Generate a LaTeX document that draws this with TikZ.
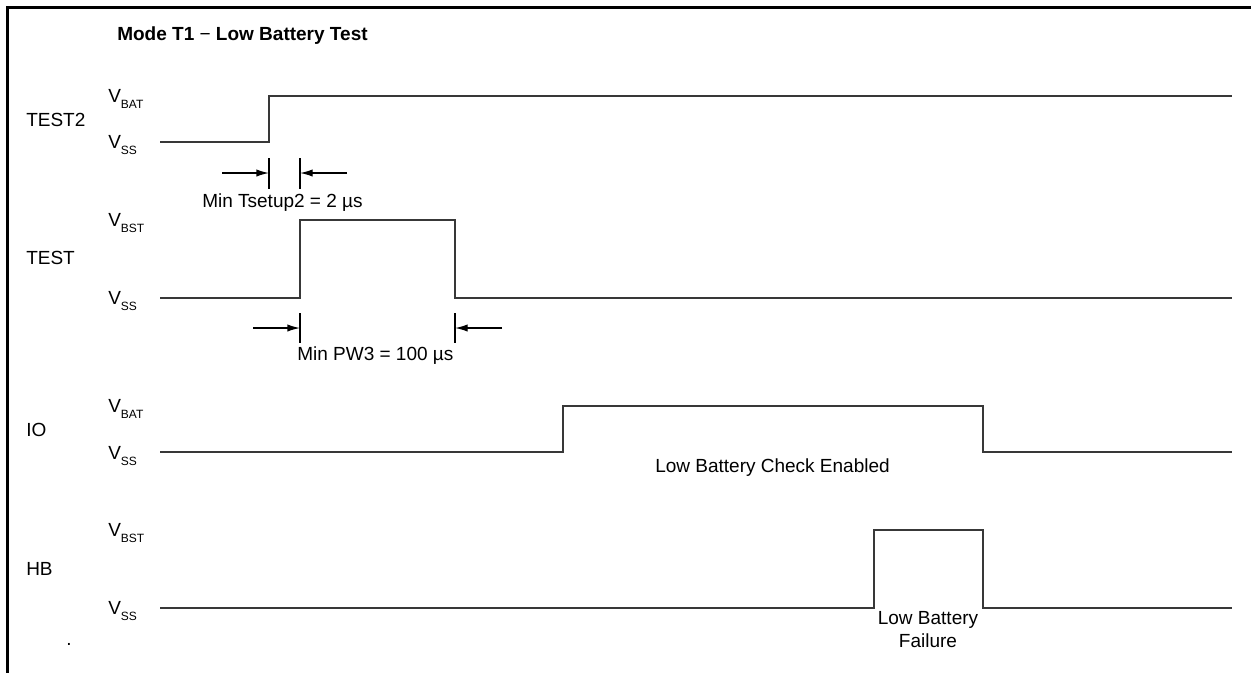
\documentclass[tikz,border=0pt]{standalone}
\usepackage{fontspec}
\setmainfont{Liberation Sans}
\usepackage{tikz}
\usetikzlibrary{arrows.meta,calc}
\definecolor{wavegray}{gray}{0.22}
\tikzstyle{frame} = [draw, line width=2.2pt, line cap=rect]
\tikzstyle{wave} = [draw, color=wavegray, line width=1.4pt]
\tikzstyle{edgetick} = [draw, line width=1pt]
\tikzstyle{dim} = [draw, line width=1pt, -{Latex[length=9.5pt,width=5.5pt]}]
\tikzstyle{txt} = [inner sep=0pt, anchor=base west, font=\fontsize{14.25}{17.25}\selectfont]
\tikzstyle{ttl} = [txt, font=\bfseries\fontsize{14.25}{17.25}\selectfont]
\newcommand{\lvl}[1]{V\raisebox{-4.5pt}{\fontsize{9}{10}\selectfont #1}}

\begin{document}
\begin{tikzpicture}[x=0.75pt, y=-0.75pt]
      \useasboundingbox (0,0) rectangle (1251,672);
      \pgfmathsetmacro{\xs}{160}
      \pgfmathsetmacro{\xe}{1232}
      \pgfmathsetmacro{\xv}{108}
      \pgfmathsetmacro{\dv}{6.8}
      % frame and title
      \path [frame] (7.5,672) -- (7.5,7.5) -- (1251,7.5);
      \node [ttl] at (117,40) (title) {Mode T1 {\mdseries −} Low Battery Test};
      % signal names
      \node [txt] at (26,126.8) (test2) {TEST2};
      \node [txt] at (26,264.8) (test) {TEST};
      \node [txt] at (26,436.8) (io) {IO};
      \node [txt] at (26,575.8) (hb) {HB};
      % levels
      \node [txt] at (\xv, 96 + \dv) (t2hi) {\lvl{BAT}};
      \node [txt] at (\xv, 142 + \dv) (t2lo) {\lvl{SS}};
      \node [txt] at (\xv, 220 + \dv) (thi) {\lvl{BST}};
      \node [txt] at (\xv, 297.7 + \dv) (tlo) {\lvl{SS}};
      \node [txt] at (\xv, 405.7 + \dv) (iohi) {\lvl{BAT}};
      \node [txt] at (\xv, 452.3 + \dv) (iolo) {\lvl{SS}};
      \node [txt] at (\xv, 530 + \dv) (hbhi) {\lvl{BST}};
      \node [txt] at (\xv, 608 + \dv) (hblo) {\lvl{SS}};
      % waveforms
      \path [wave] (\xs,142) -- (269,142) -- (269,96) -- (\xe,96);
      \path [wave] (\xs,297.7) -- (300,297.7) -- (300,220) -- (455,220) -- (455,297.7) -- (\xe,297.7);
      \path [wave] (\xs,452.3) -- (563,452.3) -- (563,405.7) -- (983,405.7) -- (983,452.3) -- (\xe,452.3);
      \path [wave] (\xs,608) -- (874,608) -- (874,530) -- (983,530) -- (983,608) -- (\xe,608);
      % setup time
      \coordinate (su1) at (269,173);
      \coordinate (su2) at (300,173);
      \path [edgetick] ($(su1) + (0,-15)$) -- +(0,31);
      \path [edgetick] ($(su2) + (0,-15)$) -- +(0,31);
      \path [dim] ($(su1) + (-47,0)$) -- (su1);
      \path [dim] ($(su2) + (47,0)$) -- (su2);
      \node [txt] at (202,207) (tsetup) {Min Tsetup2 = 2 µs};
      % pulse width
      \coordinate (pw1) at (300,328);
      \coordinate (pw2) at (455,328);
      \path [edgetick] ($(pw1) + (0,-15)$) -- +(0,30);
      \path [edgetick] ($(pw2) + (0,-15)$) -- +(0,30);
      \path [dim] ($(pw1) + (-47,0)$) -- (pw1);
      \path [dim] ($(pw2) + (47,0)$) -- (pw2);
      \node [txt] at (297,360) (pw) {Min PW3 = 100 µs};
      % notes
      \node [txt] at (655,472.7) (enabled) {Low Battery Check Enabled};
      \node [txt, anchor=north, align=center] at (928,611.4) (failure) {Low Battery\\Failure};
      \node [txt] at (66,645) (dot) {.};
    \end{tikzpicture}
\end{document}
